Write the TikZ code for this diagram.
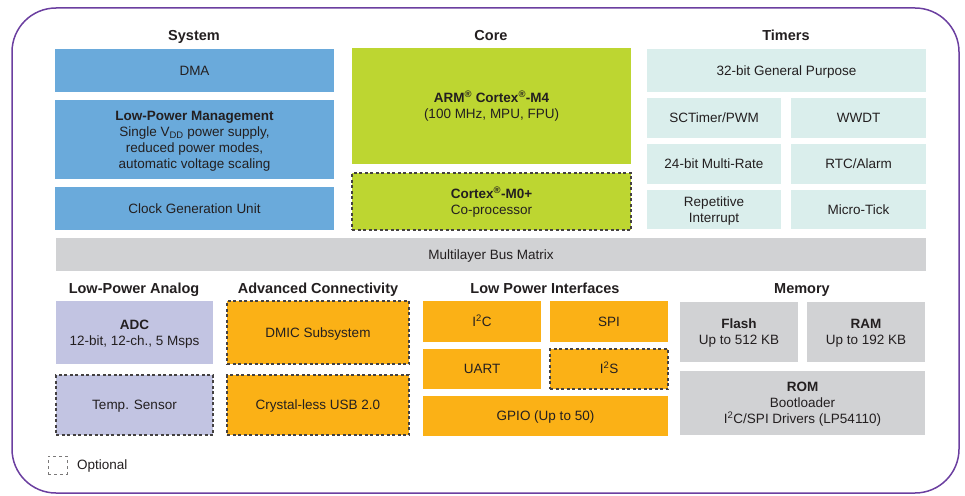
\documentclass[tikz,border=0pt]{standalone}
\usepackage{fontspec}
\setmainfont{Liberation Sans}
\definecolor{sysblue}{HTML}{6AAADB}
\definecolor{coregreen}{HTML}{BDD631}
\definecolor{timteal}{HTML}{DAEEEC}
\definecolor{busgray}{HTML}{D1D2D4}
\definecolor{analav}{HTML}{C2C4E2}
\definecolor{ifor}{HTML}{FBB116}
\definecolor{frame}{HTML}{6B3FA0}
\definecolor{txt}{HTML}{231F20}
\begin{document}
\begin{tikzpicture}[x=1pt,y=-1pt,
  blk/.style={inner sep=0pt,outer sep=0pt,align=center,text=txt,font=\fontsize{13.5}{16}\selectfont,nlines=1},
  nlines/.style={text height={9.7pt+(#1-1)*16pt},text depth=0pt},
  opt/.style={draw=txt!85,dash pattern=on 3pt off 2.5pt,line width=1.1pt},
  ttl/.style={inner sep=0pt,anchor=base,text=txt,font=\fontsize{14.5}{16}\selectfont\bfseries},
  sz/.style 2 args={minimum width=#1pt,minimum height=#2pt}]
\useasboundingbox (0,0) rectangle (965,495);
\draw[frame,line width=1.5pt,rounded corners=44pt] (12,8) rectangle (959,493);
% titles
\node[ttl] (tsys) at (194,41) {System};
\node[ttl] (tcore) at (491,41) {Core};
\node[ttl] (ttim) at (786,41) {Timers};
\node[ttl] (tana) at (134,293) {Low-Power Analog};
\node[ttl] (tcon) at (318,293) {Advanced Connectivity};
\node[ttl] (tlpi) at (545,293) {Low Power Interfaces};
\node[ttl] (tmem) at (802,293) {Memory};
% system
\node[blk,fill=sysblue,sz={279}{43}] (dma) at (194.5,70.5) {DMA};
\node[blk,nlines=4,fill=sysblue,sz={279}{79}] (lpm) at (194.5,139.5) {\textbf{Low-Power Management}\\Single V\textsubscript{DD} power supply,\\reduced power modes,\\automatic voltage scaling};
\node[blk,fill=sysblue,sz={279}{43}] (cgu) at (194.5,208.5) {Clock Generation Unit};
% core
\node[blk,nlines=2,fill=coregreen,sz={279}{116}] (m4) at (491.5,106) {\textbf{ARM\textsuperscript{\textregistered} Cortex\textsuperscript{\textregistered}-M4}\\(100 MHz, MPU, FPU)};
\node[blk,nlines=2,fill=coregreen,opt,sz={279}{57}] (m0) at (491.5,201.5) {\textbf{Cortex\textsuperscript{\textregistered}-M0+}\\Co-processor};
% timers
\node[blk,fill=timteal,sz={279}{43}] (t32) at (786.5,70.5) {32-bit General Purpose};
\node[blk,fill=timteal,sz={134}{40}] (sct) at (714,118) {SCTimer/PWM};
\node[blk,fill=timteal,sz={135}{40}] (wwdt) at (858.5,118) {WWDT};
\node[blk,fill=timteal,sz={134}{40}] (mrt) at (714,164) {24-bit Multi-Rate};
\node[blk,fill=timteal,sz={135}{40}] (rtc) at (858.5,164) {RTC/Alarm};
\node[blk,nlines=2,fill=timteal,sz={134}{39}] (rit) at (714,209.5) {Repetitive\\Interrupt};
\node[blk,fill=timteal,sz={135}{39}] (utick) at (858.5,209.5) {Micro-Tick};
% bus
\node[blk,fill=busgray,sz={870}{33}] (bus) at (491,254.5) {Multilayer Bus Matrix};
% analog
\node[blk,nlines=2,fill=analav,sz={157}{63}] (adc) at (134.5,332.5) {\textbf{ADC}\\12-bit, 12-ch., 5 Msps};
\node[blk,fill=analav,opt,sz={157}{60}] (temp) at (134.5,405) {Temp. Sensor};
% connectivity
\node[blk,fill=ifor,opt,sz={182}{63}] (dmic) at (318,332.5) {DMIC Subsystem};
\node[blk,fill=ifor,opt,sz={182}{60}] (usb) at (318,405) {Crystal-less USB 2.0};
% interfaces
\node[blk,fill=ifor,sz={118}{41}] (i2c) at (482,321.5) {I\textsuperscript{2}C};
\node[blk,fill=ifor,sz={118}{41}] (spi) at (609,321.5) {SPI};
\node[blk,fill=ifor,sz={118}{40}] (uart) at (482,369) {UART};
\node[blk,fill=ifor,opt,sz={118}{40}] (i2s) at (609,369) {I\textsuperscript{2}S};
\node[blk,fill=ifor,sz={245}{40}] (gpio) at (545.5,416) {GPIO (Up to 50)};
% memory
\node[blk,nlines=2,fill=busgray,sz={118}{60}] (flash) at (739,332) {\textbf{Flash}\\Up to 512 KB};
\node[blk,nlines=2,fill=busgray,sz={118}{60}] (ram) at (866,332) {\textbf{RAM}\\Up to 192 KB};
\node[blk,nlines=3,fill=busgray,sz={245}{64}] (rom) at (802.5,403) {\textbf{ROM}\\Bootloader\\I\textsuperscript{2}C/SPI Drivers (LP54110)};
% legend
\node[blk,draw=txt!60,dash pattern=on 3pt off 3pt,line width=1pt,sz={19}{18}] (leg) at (57.5,465) {};
\node[blk,anchor=west] (legt) at (77,465) {Optional};
\end{tikzpicture}
\end{document}
